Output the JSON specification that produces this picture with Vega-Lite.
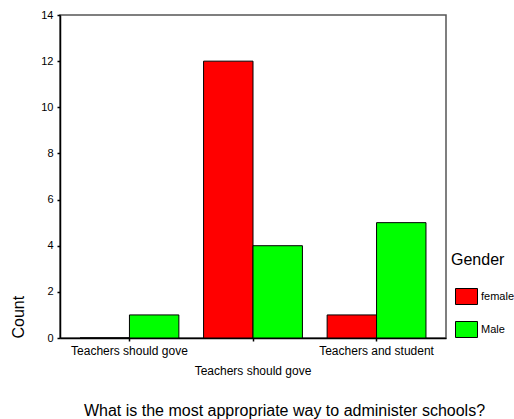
{
  "$schema": "https://vega.github.io/schema/vega-lite/v6.json",
  "width": 386,
  "height": 323,
  "autosize": {"type": "none"},
  "padding": {"left": 60, "top": 15, "right": 68, "bottom": 81},
  "background": "white",
  "config": {
    "font": "Liberation Sans",
    "view": {"stroke": "#555", "strokeWidth": 1.5}
  },
  "data": {
    "values": [
      {"answer": "Teachers should gove (a)", "Gender": "female", "Count": 0},
      {"answer": "Teachers should gove (a)", "Gender": "Male", "Count": 1},
      {"answer": "Teachers should gove (b)", "Gender": "female", "Count": 12},
      {"answer": "Teachers should gove (b)", "Gender": "Male", "Count": 4},
      {"answer": "Teachers and student", "Gender": "female", "Count": 1},
      {"answer": "Teachers and student", "Gender": "Male", "Count": 5}
    ]
  },
  "mark": {"type": "bar", "stroke": "black", "strokeWidth": 1},
  "encoding": {
    "x": {
      "field": "answer",
      "type": "nominal",
      "sort": ["Teachers should gove (a)", "Teachers should gove (b)", "Teachers and student"],
      "scale": {"paddingInner": 0.2, "paddingOuter": 0.162},
      "axis": {
        "title": "What is the most appropriate way to administer schools?",
        "titleFontSize": 16,
        "titleFontWeight": "normal",
        "titleColor": "black",
        "titleX": 224,
        "titleY": 72,
        "titleAlign": "center",
        "titleBaseline": "middle",
        "labelExpr": "slice(datum.label, 0, 20)",
        "labelAngle": 0,
        "labelFontSize": 12,
        "labelColor": "black",
        "labelPadding": {"condition": {"test": "datum.value === 'Teachers should gove (b)'", "value": 24}, "value": 4},
        "domainColor": "black",
        "domainWidth": 1.5,
        "tickColor": "black",
        "tickSize": 3,
        "tickWidth": 1.5
      }
    },
    "xOffset": {"field": "Gender", "type": "nominal", "sort": ["female", "Male"]},
    "y": {
      "field": "Count",
      "type": "quantitative",
      "scale": {"domain": [0, 14], "nice": false},
      "axis": {
        "values": [0, 2, 4, 6, 8, 10, 12, 14],
        "grid": false,
        "title": "Count",
        "titleFontSize": 16,
        "titleFontWeight": "normal",
        "titleColor": "black",
        "titleAngle": 270,
        "titleX": -42,
        "titleY": 323,
        "titleAlign": "left",
        "titleBaseline": "middle",
        "labelFontSize": 11,
        "labelColor": "black",
        "labelPadding": 4,
        "domainColor": "black",
        "domainWidth": 1.5,
        "tickColor": "black",
        "tickSize": 3,
        "tickWidth": 1.5
      }
    },
    "color": {
      "field": "Gender",
      "type": "nominal",
      "sort": ["female", "Male"],
      "scale": {"domain": ["female", "Male"], "range": ["#ff0000", "#00ff00"]},
      "legend": {
        "orient": "none",
        "legendX": 391,
        "legendY": 237,
        "title": "Gender",
        "titleFontSize": 16,
        "titleFontWeight": "normal",
        "titleColor": "black",
        "titlePadding": 17,
        "symbolType": "M-1,-0.727H1V0.727H-1Z",
        "symbolSize": 484,
        "symbolStrokeColor": "black",
        "symbolStrokeWidth": 1,
        "symbolOffset": 4,
        "symbolOpacity": 1,
        "labelFontSize": 11,
        "labelColor": "black",
        "labelOffset": 3,
        "rowPadding": 11
      }
    }
  }
}
